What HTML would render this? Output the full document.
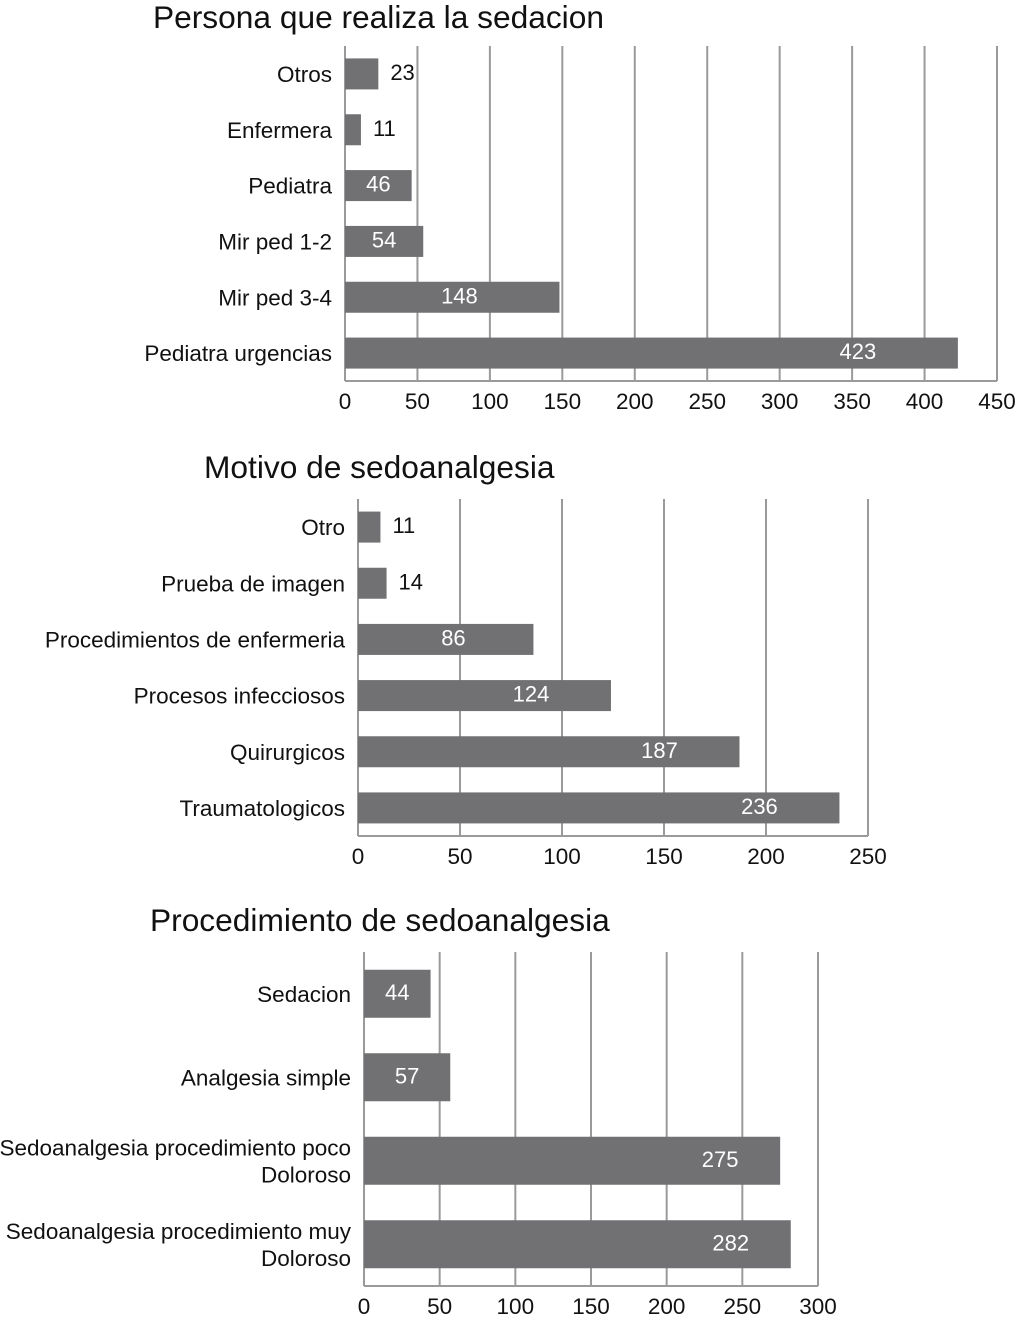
<!DOCTYPE html>
<html><head><meta charset="utf-8">
<style>
html,body{margin:0;padding:0;background:#fff;}
svg{display:block;font-family:"Liberation Sans",Arial,sans-serif;}
</style></head>
<body>
<svg id="chart" width="1024" height="1318" viewBox="0 0 1024 1318" xmlns="http://www.w3.org/2000/svg"></svg>
<script>
const c1Categories = ["Otros","Enfermera","Pediatra","Mir ped 1-2","Mir ped 3-4","Pediatra urgencias"];
const c1Values = [23,11,46,54,148,423];
const c1Ticks = [0,50,100,150,200,250,300,350,400,450];
const c2Categories = ["Otro","Prueba de imagen","Procedimientos de enfermeria","Procesos infecciosos","Quirurgicos","Traumatologicos"];
const c2Values = [11,14,86,124,187,236];
const c2Ticks = [0,50,100,150,200,250];
const c3Categories = [["Sedacion"],["Analgesia simple"],["Sedoanalgesia procedimiento poco","Doloroso"],["Sedoanalgesia procedimiento muy","Doloroso"]];
const c3Values = [44,57,275,282];
const c3Ticks = [0,50,100,150,200,250,300];

const NS="http://www.w3.org/2000/svg";
const svg=document.getElementById('chart');
function mk(tag,attrs,parent,text){
  const e=document.createElementNS(NS,tag);
  for(const k in attrs)e.setAttribute(k,attrs[k]);
  if(text!==undefined)e.textContent=text;
  (parent||svg).appendChild(e);return e;
}
function chart(cfg){
  const g=mk('g',{});
  
  
  const t=mk('text',{x:cfg.titleX,y:cfg.titleY,'font-size':31.7,fill:'#111'},g,cfg.title);
  
  
  const max=cfg.ticks[cfg.ticks.length-1];
  const xs=v=>cfg.x0+(v/max)*(cfg.x1-cfg.x0);
  cfg.ticks.forEach(v=>{
    const l=mk('line',{x1:xs(v),x2:xs(v),y1:cfg.gridTop,y2:cfg.axisY,stroke:'#9a9a9a','stroke-width':2},g);
    
    
    const tl=mk('text',{x:xs(v),y:cfg.axisY+28,'font-size':22.5,'text-anchor':'middle',fill:'#111'},g,String(v));
    
    
  });
  const ax=mk('line',{x1:cfg.x0,x2:cfg.x1,y1:cfg.axisY,y2:cfg.axisY,stroke:'#9a9a9a','stroke-width':2},g);
  
  
  const n=cfg.values.length;
  const band=(cfg.axisY-cfg.gridTop)/n;
  cfg.values.forEach((v,i)=>{
    const yc=cfg.gridTop+band*(i+0.5);
    const r=mk('rect',{x:cfg.x0,y:yc-cfg.barH/2,width:xs(v)-cfg.x0,height:cfg.barH,fill:'#717073'},g);
    
    
    const w=xs(v)-cfg.x0;
    const inside=w>40;
    const lx=inside?Math.max(cfg.x0+w/2, xs(v)-cfg.off):xs(v)+12;
    const vl=mk('text',{x:lx,y:yc+6,'font-size':22,'text-anchor':inside?'middle':'start',fill:inside?'#fff':'#111'},g,String(v));
    
    
    let lab=cfg.categories[i]; if(!Array.isArray(lab))lab=[lab];
    lab.forEach((s,j)=>{
      const cl=mk('text',{x:cfg.x0-13,y:yc+8+(j-(lab.length-1)/2)*27,'font-size':22.5,'text-anchor':'end',fill:'#111'},g,s);
      
      
    });
  });
}
chart({name:'persona-chart',title:'Persona que realiza la sedacion',titleX:153,titleY:28,categories:c1Categories,values:c1Values,ticks:c1Ticks,x0:345,x1:997,gridTop:46,axisY:381,barH:31,off:100});
chart({name:'motivo-chart',title:'Motivo de sedoanalgesia',titleX:204,titleY:478,categories:c2Categories,values:c2Values,ticks:c2Ticks,x0:358,x1:868,gridTop:499,axisY:836,barH:31,off:80});
chart({name:'procedimiento-chart',title:'Procedimiento de sedoanalgesia',titleX:150,titleY:931,categories:c3Categories,values:c3Values,ticks:c3Ticks,x0:364,x1:818,gridTop:952,axisY:1286,barH:48,off:60});
</script>
</body></html>
